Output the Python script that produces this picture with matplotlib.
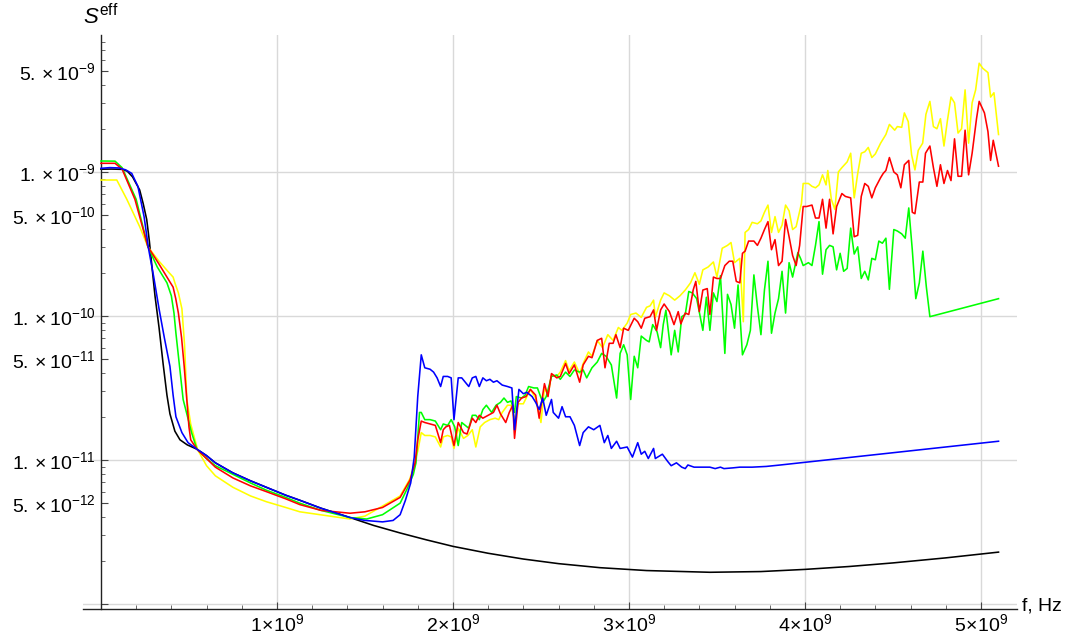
import numpy as np
import matplotlib
matplotlib.use("Agg")
import matplotlib.pyplot as plt
from matplotlib.ticker import FixedLocator, FixedFormatter

plt.rcParams['font.family'] = ['Liberation Sans', 'DejaVu Sans']
plt.rcParams['mathtext.fontset'] = 'custom'
plt.rcParams['mathtext.rm'] = 'Liberation Sans'
plt.rcParams['mathtext.it'] = 'Liberation Sans:italic'
plt.rcParams['mathtext.bf'] = 'Liberation Sans:bold'

# ---------------- data (x in units of 1e9 Hz, y as log10 of S_eff) ----------------
black_x = [0, 0.06, 0.12, 0.15, 0.18, 0.22, 0.24, 0.26, 0.275, 0.29, 0.307, 0.33, 0.353, 0.375,
           0.392, 0.42, 0.449, 0.49, 0.545, 0.6, 0.65, 0.75, 0.85, 0.94, 1.05, 1.13, 1.25, 1.415,
           1.55, 1.70, 1.85, 2.0, 2.2, 2.4, 2.6, 2.835, 3.1, 3.46, 3.75, 4.0, 4.25, 4.5, 4.8, 5.10]
black_log = [-8.981, -8.980, -8.982, -8.995, -9.035, -9.125, -9.22, -9.33, -9.48, -9.66, -9.86, -10.08,
             -10.33, -10.55, -10.68, -10.80, -10.86, -10.895, -10.925, -10.97, -11.02, -11.09, -11.145,
             -11.19, -11.245, -11.28, -11.335, -11.40, -11.455, -11.507, -11.555, -11.60, -11.648,
             -11.688, -11.72, -11.748, -11.768, -11.78, -11.775, -11.76, -11.74, -11.715, -11.68, -11.64]

blue_x = [0, 0.05, 0.1, 0.14, 0.175, 0.21, 0.245, 0.27, 0.30, 0.33, 0.36, 0.392, 0.41, 0.426, 0.46,
          0.495, 0.545, 0.6, 0.65, 0.75, 0.85, 0.94, 1.05, 1.13, 1.25, 1.415, 1.5, 1.60, 1.66, 1.70,
          1.73, 1.76, 1.78, 1.80, 1.82, 1.84, 1.87, 1.89, 1.91, 1.93, 1.945, 1.97, 1.99, 2.006, 2.03,
          2.05, 2.07, 2.09, 2.11, 2.13, 2.15, 2.17, 2.19, 2.21, 2.23, 2.25, 2.28, 2.31, 2.335, 2.35,
          2.375, 2.40, 2.42, 2.45, 2.47, 2.49, 2.51, 2.53, 2.56, 2.57, 2.60, 2.62, 2.64, 2.665, 2.69,
          2.72, 2.74, 2.77, 2.80, 2.835, 2.86, 2.88, 2.90, 2.93, 2.95, 2.99, 3.02, 3.05, 3.07, 3.09,
          3.11, 3.14, 3.15, 3.19, 3.22, 3.24, 3.27, 3.30, 3.32, 3.335, 3.37, 3.40, 3.43, 3.46, 3.49,
          3.52, 3.54, 3.59, 3.63, 3.70, 3.78, 3.86, 5.10]
blue_log = [-8.975, -8.970, -8.972, -8.985, -9.01, -9.10, -9.31, -9.53, -9.73, -9.95, -10.15, -10.35,
            -10.55, -10.70, -10.81, -10.88, -10.925, -10.97, -11.02, -11.09, -11.145, -11.19, -11.245,
            -11.28, -11.335, -11.40, -11.42, -11.43, -11.42, -11.38, -11.28, -11.16, -10.98, -10.56,
            -10.27, -10.36, -10.37, -10.39, -10.43, -10.49, -10.42, -10.42, -10.43, -10.72, -10.43,
            -10.43, -10.46, -10.49, -10.43, -10.42, -10.49, -10.43, -10.45, -10.44, -10.46, -10.45,
            -10.48, -10.49, -10.50, -10.79, -10.51, -10.54, -10.53, -10.56, -10.60, -10.65, -10.57,
            -10.69, -10.58, -10.67, -10.71, -10.63, -10.70, -10.70, -10.76, -10.90, -10.81, -10.77,
            -10.79, -10.76, -10.88, -10.83, -10.92, -10.87, -10.92, -10.91, -10.98, -10.88, -10.96,
            -10.94, -10.99, -10.92, -10.99, -10.96, -11.01, -11.04, -11.02, -11.05, -11.06, -11.035,
            -11.05, -11.05, -11.05, -11.05, -11.06, -11.05, -11.06, -11.055, -11.05, -11.05, -11.045,
            -11.035, -10.87]

green_x = [0, 0.08, 0.12, 0.2, 0.267, 0.32, 0.375, 0.40, 0.415, 0.426, 0.467, 0.515, 0.545, 0.6,
           0.65, 0.75, 0.85, 0.94, 1.05, 1.13, 1.25, 1.415, 1.51, 1.60, 1.70, 1.74, 1.775, 1.79,
           1.81, 1.82, 1.84, 1.87, 1.90, 1.93, 1.945, 1.97, 1.99, 2.01, 2.03, 2.05, 2.07, 2.09, 2.11,
           2.13, 2.15, 2.17, 2.19, 2.22, 2.245, 2.27, 2.29, 2.31, 2.33, 2.35, 2.36, 2.39, 2.41, 2.43,
           2.46, 2.48, 2.51, 2.53, 2.56, 2.59, 2.61, 2.64, 2.665, 2.69, 2.72, 2.74, 2.76, 2.79, 2.82,
           2.845, 2.87, 2.90, 2.93, 2.95, 2.97, 2.99, 3.01, 3.03, 3.05, 3.07, 3.10, 3.115, 3.135,
           3.16, 3.18, 3.195, 3.21, 3.24, 3.26, 3.28, 3.30, 3.32, 3.34, 3.36, 3.385, 3.42, 3.44, 3.46,
           3.48, 3.50, 3.52, 3.545, 3.56, 3.58, 3.60, 3.62, 3.645, 3.67, 3.69, 3.71, 3.73, 3.75, 3.77,
           3.79, 3.81, 3.83, 3.85, 3.87, 3.89, 3.91, 3.93, 3.96, 3.975, 3.99, 4.02, 4.04, 4.06, 4.08,
           4.10, 4.12, 4.14, 4.16, 4.18, 4.20, 4.22, 4.24, 4.26, 4.28, 4.30, 4.32, 4.34, 4.36, 4.38,
           4.40, 4.42, 4.44, 4.46, 4.48, 4.505, 4.525, 4.55, 4.57, 4.59, 4.61, 4.63, 4.65, 4.67, 4.69,
           4.71, 5.10]
green_log = [-8.924, -8.925, -8.97, -9.19, -9.52, -9.66, -9.77, -9.86, -9.98, -10.12, -10.58, -10.81,
             -10.925, -10.99, -11.04, -11.10, -11.16, -11.21, -11.26, -11.30, -11.35, -11.40, -11.41,
             -11.38, -11.30, -11.20, -11.10, -11.02, -10.67, -10.67, -10.72, -10.72, -10.73, -10.79,
             -10.75, -10.76, -10.72, -10.77, -10.90, -10.74, -10.76, -10.78, -10.69, -10.69, -10.72,
             -10.65, -10.62, -10.67, -10.62, -10.60, -10.57, -10.60, -10.59, -10.67, -10.56, -10.57,
             -10.55, -10.49, -10.50, -10.50, -10.60, -10.56, -10.42, -10.41, -10.44, -10.39, -10.42,
             -10.375, -10.39, -10.375, -10.43, -10.36, -10.32, -10.26, -10.28, -10.34, -10.57, -10.26,
             -10.20, -10.27, -10.58, -10.28, -10.36, -10.14, -10.17, -10.18, -10.06, -10.11, -10.22,
             -10.06, -9.96, -10.27, -10.10, -10.25, -10.005, -9.99, -9.83, -9.84, -9.88, -10.10, -9.87,
             -10.10, -9.84, -9.90, -9.72, -10.26, -9.85, -9.92, -10.085, -9.785, -10.27, -10.20, -10.10,
             -9.715, -9.935, -10.13, -9.82, -9.62, -10.12, -9.98, -9.88, -9.69, -9.98, -9.63, -9.73,
             -9.56, -9.60, -9.65, -9.63, -9.65, -9.51, -9.345, -9.71, -9.54, -9.51, -9.52, -9.68,
             -9.565, -9.69, -9.67, -9.39, -9.57, -9.52, -9.74, -9.69, -9.75, -9.60, -9.61, -9.48,
             -9.495, -9.46, -9.815, -9.40, -9.41, -9.43, -9.46, -9.25, -9.54, -9.88, -9.77, -9.55,
             -9.80, -10.005, -9.88]

red_x = [0, 0.08, 0.12, 0.193, 0.267, 0.33, 0.39, 0.41, 0.425, 0.44, 0.458, 0.473, 0.50, 0.51,
         0.545, 0.6, 0.65, 0.75, 0.85, 0.94, 1.05, 1.13, 1.25, 1.415, 1.50, 1.60, 1.70, 1.756, 1.785,
         1.80, 1.82, 1.84, 1.87, 1.90, 1.93, 1.945, 1.96, 1.98, 2.006, 2.03, 2.06, 2.08, 2.11, 2.13,
         2.15, 2.17, 2.20, 2.23, 2.25, 2.27, 2.30, 2.32, 2.34, 2.35, 2.37, 2.39, 2.415, 2.44, 2.47,
         2.49, 2.52, 2.54, 2.56, 2.59, 2.61, 2.64, 2.66, 2.69, 2.72, 2.74, 2.77, 2.79, 2.82, 2.845,
         2.864, 2.888, 2.91, 2.926, 2.95, 2.97, 2.996, 3.03, 3.05, 3.07, 3.09, 3.12, 3.14, 3.157,
         3.18, 3.20, 3.23, 3.256, 3.28, 3.295, 3.32, 3.34, 3.365, 3.38, 3.40, 3.42, 3.445, 3.46,
         3.48, 3.50, 3.52, 3.545, 3.57, 3.59, 3.61, 3.63, 3.645, 3.66, 3.68, 3.71, 3.73, 3.75, 3.77,
         3.79, 3.81, 3.83, 3.85, 3.87, 3.89, 3.91, 3.93, 3.95, 3.97, 3.99, 4.01, 4.04, 4.06, 4.08,
         4.10, 4.12, 4.14, 4.16, 4.18, 4.21, 4.23, 4.26, 4.28, 4.30, 4.32, 4.34, 4.36, 4.38, 4.40,
         4.43, 4.445, 4.46, 4.48, 4.505, 4.525, 4.545, 4.565, 4.59, 4.61, 4.625, 4.65, 4.67, 4.685,
         4.71, 4.73, 4.75, 4.77, 4.79, 4.81, 4.83, 4.85, 4.87, 4.89, 4.91, 4.93, 4.95, 4.975, 4.99,
         5.02, 5.04, 5.055, 5.07, 5.10]
red_log = [-8.94, -8.94, -8.98, -9.19, -9.52, -9.64, -9.76, -9.80, -9.88, -9.98, -10.15, -10.35,
           -10.77, -10.86, -10.925, -10.99, -11.05, -11.125, -11.18, -11.22, -11.27, -11.31, -11.35,
           -11.37, -11.36, -11.33, -11.26, -11.14, -11.02, -10.86, -10.73, -10.74, -10.75, -10.76,
           -10.88, -10.79, -10.77, -10.76, -10.90, -10.74, -10.81, -10.82, -10.71, -10.74, -10.69,
           -10.71, -10.69, -10.67, -10.62, -10.68, -10.74, -10.67, -10.62, -10.85, -10.60, -10.57,
           -10.56, -10.51, -10.55, -10.71, -10.47, -10.56, -10.40, -10.43, -10.42, -10.33, -10.40,
           -10.34, -10.46, -10.34, -10.28, -10.29, -10.17, -10.155, -10.36, -10.19, -10.19, -10.13,
           -10.22, -10.085, -10.10, -10.016, -10.04, -10.085, -10.016, -10.005, -9.958, -10.10,
           -9.958, -9.917, -9.97, -10.06, -9.97, -10.055, -9.98, -9.99, -9.82, -9.76, -9.97, -9.82,
           -9.81, -9.99, -9.73, -9.74, -9.74, -9.65, -9.62, -9.62, -9.76, -9.77, -9.565, -9.55,
           -9.48, -9.48, -9.51, -9.46, -9.40, -9.345, -9.54, -9.47, -9.65, -9.62, -9.33, -9.45,
           -9.58, -9.65, -9.51, -9.24, -9.24, -9.23, -9.32, -9.32, -9.19, -9.39, -9.19, -9.43, -9.24,
           -9.15, -9.17, -9.18, -9.45, -9.44, -9.17, -9.08, -9.10, -9.18, -9.11, -9.04, -9.01, -8.99,
           -8.90, -9.00, -9.02, -9.11, -8.95, -8.92, -9.28, -9.29, -9.07, -9.07, -8.87, -8.82, -8.97,
           -9.10, -8.95, -9.08, -8.99, -9.06, -8.77, -9.03, -9.03, -8.71, -9.02, -8.87, -8.63, -8.51,
           -8.59, -8.72, -8.92, -8.78, -8.96]

yellow_x = [0, 0.09, 0.147, 0.22, 0.267, 0.33, 0.38, 0.41, 0.42, 0.44, 0.46, 0.475, 0.488, 0.51,
            0.534, 0.55, 0.6, 0.65, 0.75, 0.85, 0.94, 1.05, 1.13, 1.30, 1.415, 1.50, 1.60, 1.70,
            1.756, 1.785, 1.80, 1.82, 1.84, 1.87, 1.90, 1.93, 1.945, 1.97, 1.99, 2.006, 2.03, 2.06,
            2.085, 2.11, 2.13, 2.155, 2.18, 2.21, 2.24, 2.26, 2.28, 2.31, 2.33, 2.35, 2.37, 2.40,
            2.42, 2.44, 2.47, 2.50, 2.52, 2.54, 2.56, 2.59, 2.61, 2.64, 2.66, 2.69, 2.72, 2.74, 2.77,
            2.79, 2.82, 2.85, 2.88, 2.91, 2.94, 2.96, 2.99, 3.01, 3.04, 3.07, 3.10, 3.12, 3.14, 3.15,
            3.18, 3.20, 3.23, 3.26, 3.29, 3.32, 3.35, 3.375, 3.40, 3.42, 3.45, 3.48, 3.50, 3.53, 3.56,
            3.58, 3.60, 3.63, 3.65, 3.66, 3.68, 3.70, 3.73, 3.75, 3.77, 3.79, 3.81, 3.83, 3.85, 3.87,
            3.89, 3.91, 3.93, 3.95, 3.98, 3.99, 4.02, 4.04, 4.06, 4.08, 4.10, 4.12, 4.13, 4.15, 4.17,
            4.19, 4.21, 4.24, 4.26, 4.28, 4.30, 4.32, 4.34, 4.36, 4.38, 4.40, 4.43, 4.46, 4.48, 4.51,
            4.525, 4.55, 4.565, 4.587, 4.606, 4.625, 4.644, 4.669, 4.6875, 4.71, 4.73, 4.75, 4.77,
            4.79, 4.81, 4.83, 4.85, 4.87, 4.89, 4.91, 4.93, 4.95, 4.97, 4.99, 5.01, 5.04, 5.055,
            5.074, 5.10]
yellow_log = [-9.056, -9.056, -9.19, -9.38, -9.52, -9.62, -9.69, -9.73, -9.77, -9.84, -9.95, -10.2,
              -10.58, -10.75, -10.86, -10.93, -11.04, -11.11, -11.19, -11.25, -11.29, -11.33, -11.36,
              -11.39, -11.41, -11.39, -11.32, -11.25, -11.13, -11.00, -10.94, -10.81, -10.83, -10.83,
              -10.84, -10.91, -10.84, -10.83, -10.84, -10.92, -10.78, -10.85, -10.83, -10.79, -10.91,
              -10.77, -10.74, -10.72, -10.71, -10.72, -10.67, -10.62, -10.62, -10.72, -10.61, -10.61,
              -10.56, -10.51, -10.57, -10.74, -10.50, -10.55, -10.41, -10.42, -10.39, -10.31, -10.38,
              -10.32, -10.40, -10.33, -10.25, -10.28, -10.17, -10.22, -10.13, -10.17, -10.08, -10.10,
              -10.05, -9.99, -9.98, -10.01, -9.94, -9.93, -9.89, -10.01, -9.89, -9.84, -9.86, -9.89,
              -9.86, -9.82, -9.77, -9.70, -9.78, -9.68, -9.66, -9.625, -9.73, -9.53, -9.51, -9.49,
              -9.63, -9.60, -10.04, -9.42, -9.40, -9.35, -9.36, -9.34, -9.28, -9.23, -9.42, -9.31,
              -9.42, -9.37, -9.23, -9.27, -9.40, -9.38, -9.22, -9.08, -9.08, -9.10, -9.11, -9.09,
              -9.02, -9.09, -8.99, -9.19, -9.26, -9.00, -8.97, -8.93, -8.87, -9.18, -9.01, -8.87,
              -8.86, -8.83, -8.90, -8.875, -8.80, -8.74, -8.67, -8.71, -8.685, -8.69, -8.59, -8.65,
              -8.88, -8.986, -8.85, -8.80, -8.60, -8.51, -8.685, -8.70, -8.63, -8.82, -8.64, -8.48,
              -8.52, -8.73, -8.70, -8.43, -8.80, -8.52, -8.43, -8.245, -8.28, -8.31, -8.48, -8.45,
              -8.74]

y_major = [1e-12, 1e-11, 1e-10, 1e-9]
y_major_labels = ['', r'$1.\times10^{-11}$', r'$1.\times10^{-10}$', r'$1.\times10^{-9}$']
y_five = [5e-12, 5e-11, 5e-10, 5e-9]
y_five_labels = [r'$5.\times10^{-12}$', r'$5.\times10^{-11}$', r'$5.\times10^{-10}$', r'$5.\times10^{-9}$']
x_major = [1e9, 2e9, 3e9, 4e9, 5e9]
x_major_labels = [r'$1\!\times\!10^{9}$', r'$2\!\times\!10^{9}$', r'$3\!\times\!10^{9}$',
                  r'$4\!\times\!10^{9}$', r'$5\!\times\!10^{9}$']

# ---------------- figure ----------------
W, H = 1079, 641
fig = plt.figure(figsize=(W / 100, H / 100), dpi=100)
ax_l, ax_r, ax_t, ax_b = 83, 1017, 35, 609
ax = fig.add_axes([ax_l / W, 1 - ax_b / H, (ax_r - ax_l) / W, (ax_b - ax_t) / H])
ax.set_yscale('log')
ax.set_xlim(-0.102e9, 5.205e9)
ax.set_ylim(10 ** -12.035, 10 ** -8.049)

G = 1e9
series = [(black_x, black_log, 'black', 2),
          (yellow_x, yellow_log, '#ffff00', 3),
          (green_x, green_log, '#00ff00', 4),
          (red_x, red_log, '#ff0000', 5),
          (blue_x, blue_log, '#0000ff', 6)]
for xs, ls, c, z in series:
    ax.plot(np.array(xs) * G, 10 ** np.array(ls), color=c, lw=1.15, zorder=z)

for s in ['top', 'right']:
    ax.spines[s].set_visible(False)
ax.spines['left'].set_position(('data', 0))
for s in ['left', 'bottom']:
    ax.spines[s].set_color('#222222')
    ax.spines[s].set_linewidth(1.0)

# y ticks
minor_y = [k * 10.0 ** e for e in range(-12, -8) for k in (2, 3, 4, 6, 7, 8, 9)]
minor_y = [v for v in minor_y if v < 10 ** -8.049]
ax.yaxis.set_major_locator(FixedLocator(y_major + y_five))
ax.yaxis.set_major_formatter(FixedFormatter(y_major_labels + y_five_labels))
ax.yaxis.set_minor_locator(FixedLocator(minor_y))
ax.yaxis.set_minor_formatter(FixedFormatter([''] * len(minor_y)))
ax.tick_params(axis='y', which='major', direction='in', length=5, width=0.8, pad=4,
               labelsize=14, color='#444444')
ax.tick_params(axis='y', which='minor', direction='in', length=3, width=0.7, color='#666666')

# x ticks
minor_x = [k * 0.2e9 for k in range(1, 26) if k % 5 != 0]
ax.xaxis.set_major_locator(FixedLocator(x_major))
ax.xaxis.set_major_formatter(FixedFormatter(x_major_labels))
ax.xaxis.set_minor_locator(FixedLocator(minor_x))
ax.tick_params(axis='x', which='major', direction='in', length=5, width=0.8, pad=3,
               labelsize=14, color='#444444')
ax.tick_params(axis='x', which='minor', direction='in', length=3, width=0.7, color='#666666')

# grid at decades and integer multiples of 1e9
for v in y_major:
    ax.axhline(v, color='#d9d9d9', lw=1.0, zorder=0)
for v in x_major:
    ax.axvline(v, color='#d9d9d9', lw=1.0, zorder=0)

fig.text(101 / W, 1 - 17 / H, r'$S^{\mathrm{eff}}$', fontsize=16, ha='center', va='center')
fig.text(1022 / W, 1 - 606 / H, 'f, Hz', fontsize=14, ha='left', va='center')

fig.savefig('out.png', dpi=100)
